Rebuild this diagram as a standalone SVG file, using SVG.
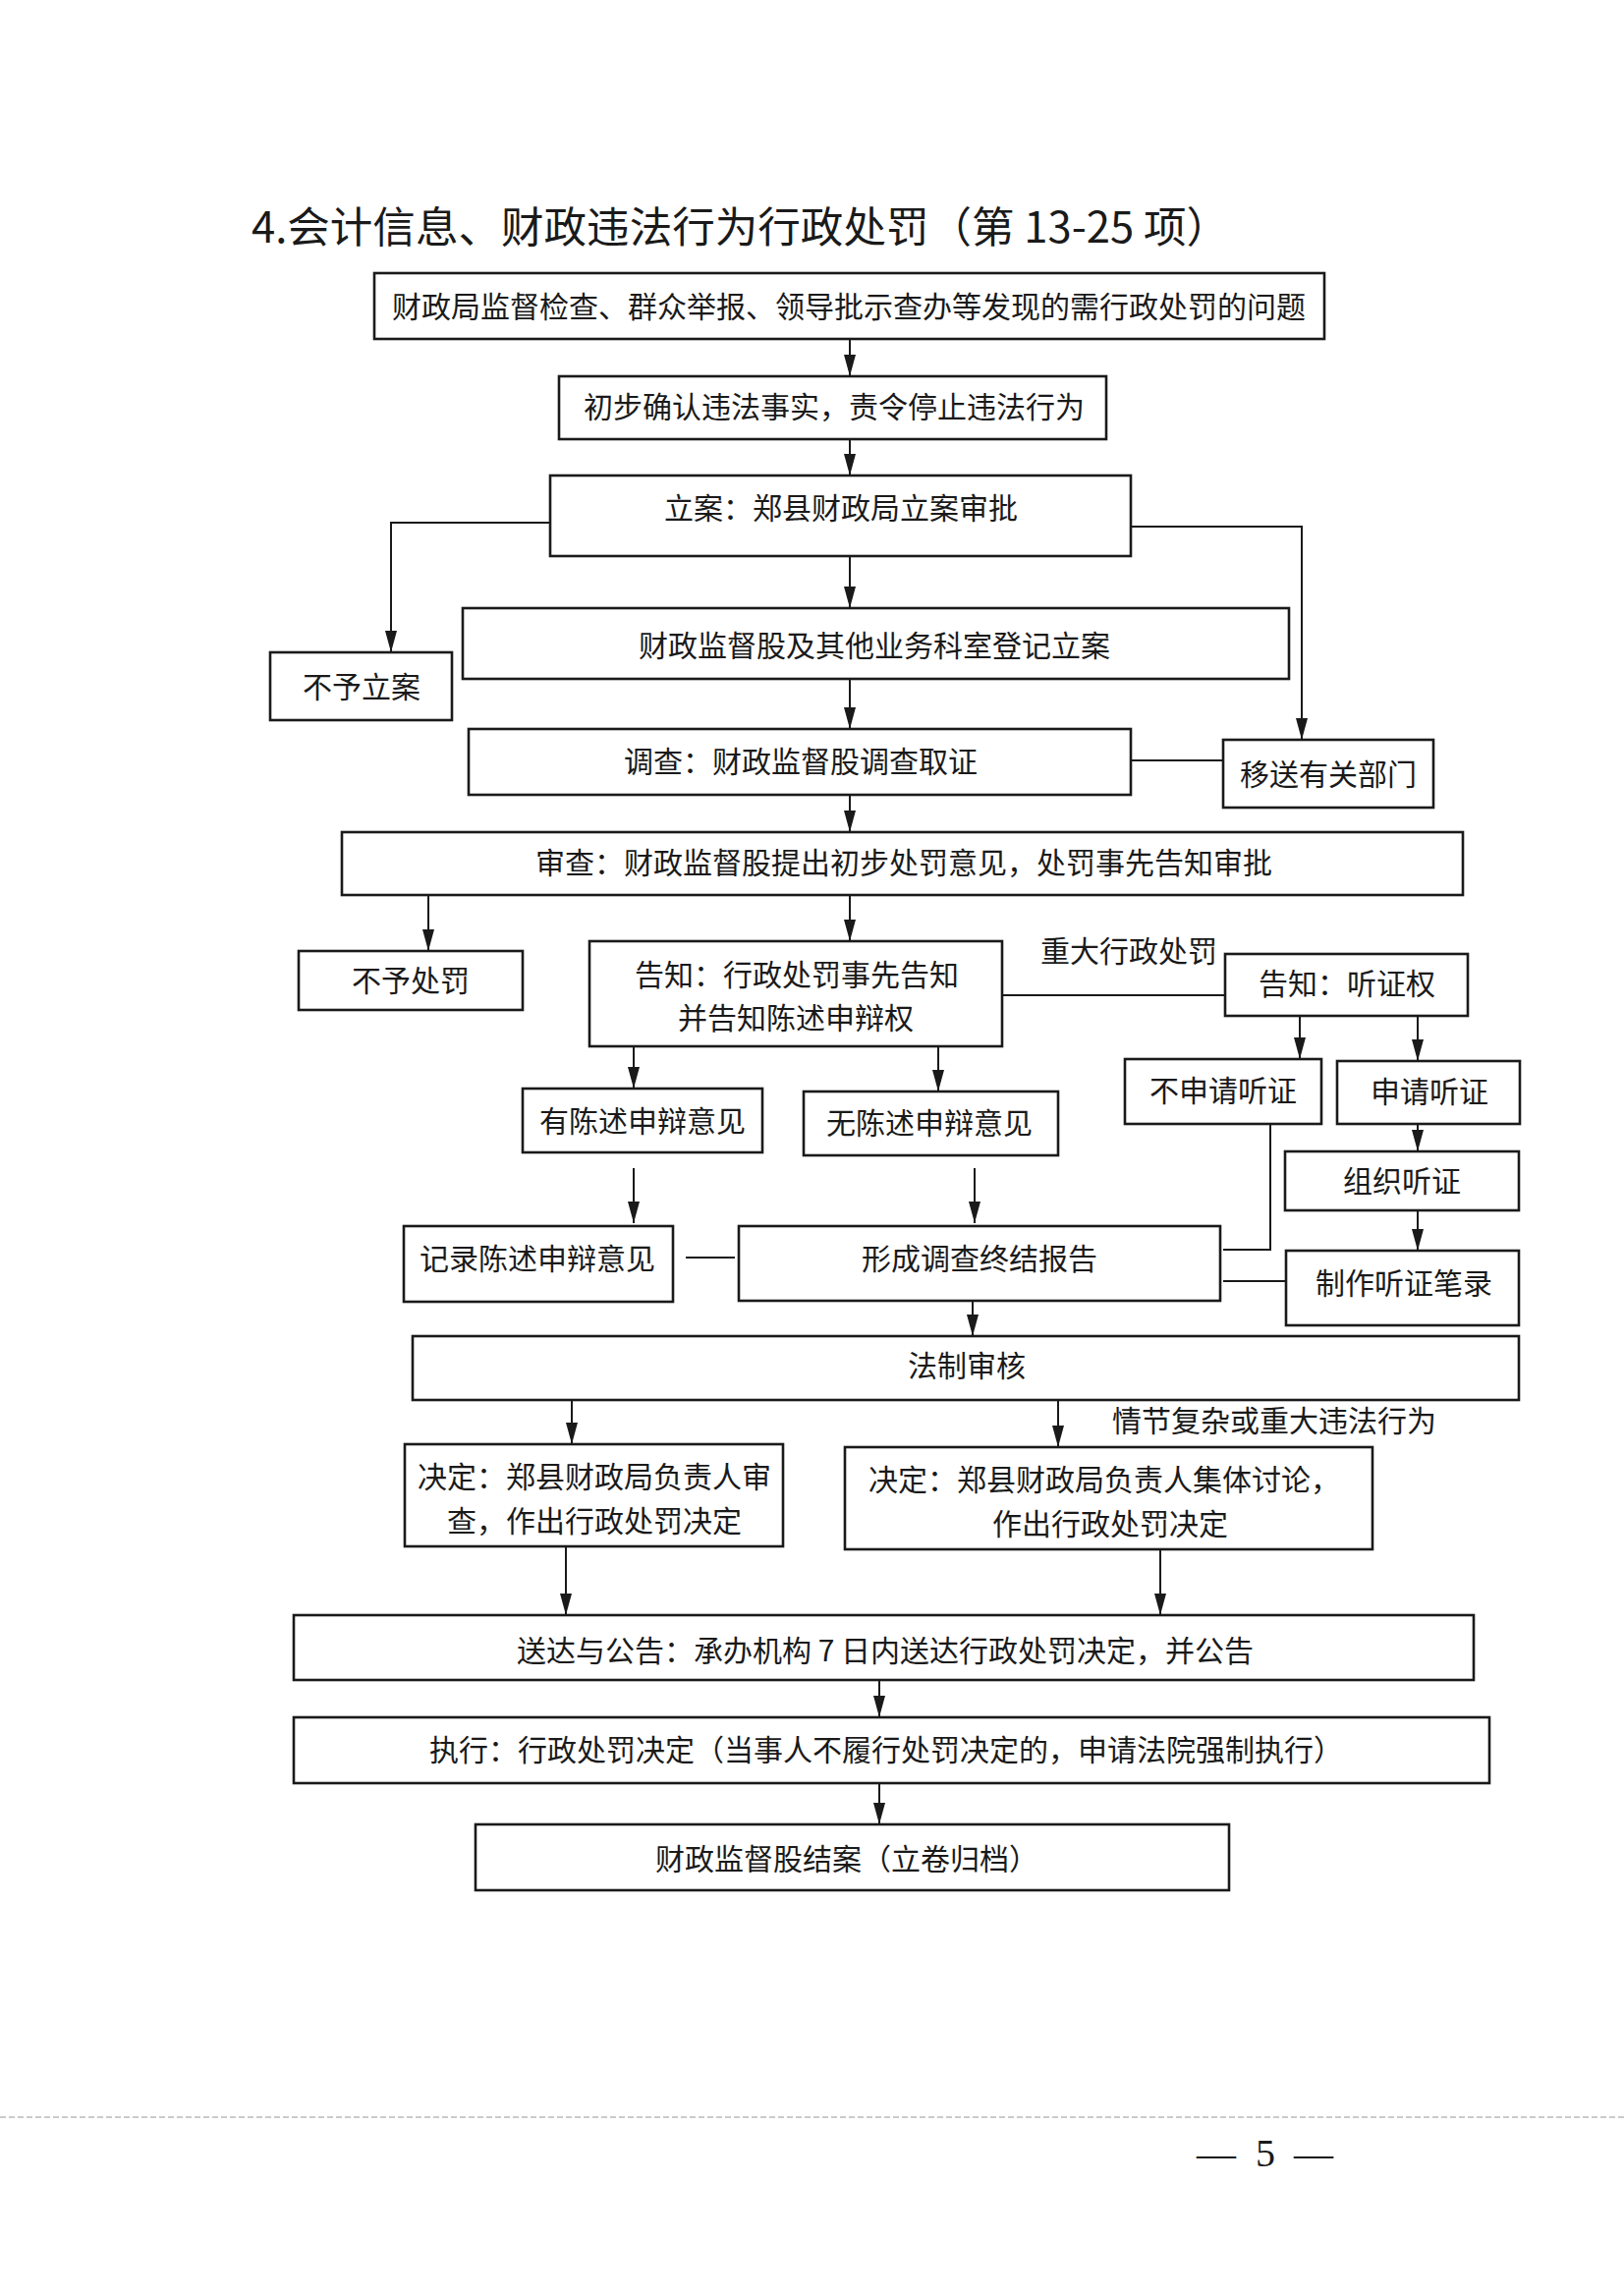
<svg xmlns="http://www.w3.org/2000/svg" width="1653" height="2336" viewBox="0 0 1653 2336">
<style>
.box{fill:#fff;stroke:#1a1a1a;stroke-width:2.6}
.t{font-family:"Noto Sans CJK SC","Noto Sans",sans-serif;font-size:30px;fill:#1a1a1a;text-anchor:middle}
.lab{font-family:"Noto Sans CJK SC","Noto Sans",sans-serif;font-size:30px;fill:#1a1a1a}
.c{fill:none;stroke:#1a1a1a;stroke-width:2}
.f{font-family:"Liberation Serif",serif;font-size:40px;fill:#1a1a1a;text-anchor:middle}
</style>
<defs>
<marker id="arrh" viewBox="0 0 22 12" refX="22" refY="6" markerWidth="22" markerHeight="12" markerUnits="userSpaceOnUse" orient="auto">
<path d="M0,0 L22,6 L0,12 z" fill="#1a1a1a"/>
</marker>
</defs>
<rect width="1653" height="2336" fill="#fff"/>
<text x="256" y="247" font-family="'Noto Sans CJK SC',sans-serif" font-size="43" fill="#1a1a1a" textLength="995" lengthAdjust="spacingAndGlyphs">4.会计信息、财政违法行为行政处罚（第 13-25 项）</text>

<g id="connectors">
<path class="c" marker-end="url(#arrh)" d="M865,345 V383"/>
<path class="c" marker-end="url(#arrh)" d="M865,447 V484"/>
<path class="c" marker-end="url(#arrh)" d="M560,532 H398 V664"/>
<path class="c" marker-end="url(#arrh)" d="M1151,536 H1325 V753"/>
<path class="c" marker-end="url(#arrh)" d="M865,566 V619"/>
<path class="c" marker-end="url(#arrh)" d="M865,691 V742"/>
<path class="c" d="M1151,774 H1245"/>
<path class="c" marker-end="url(#arrh)" d="M865,809 V847"/>
<path class="c" marker-end="url(#arrh)" d="M436,911 V968"/>
<path class="c" marker-end="url(#arrh)" d="M865,911 V958"/>
<path class="c" d="M1020,1013 H1247"/>
<path class="c" marker-end="url(#arrh)" d="M1323,1034 V1078"/>
<path class="c" marker-end="url(#arrh)" d="M1443,1034 V1080"/>
<path class="c" marker-end="url(#arrh)" d="M1443,1144 V1172"/>
<path class="c" marker-end="url(#arrh)" d="M1443,1232 V1273"/>
<path class="c" d="M1293,1144 V1272 H1245"/>
<path class="c" d="M1245,1304 H1309"/>
<path class="c" marker-end="url(#arrh)" d="M645,1065 V1108"/>
<path class="c" marker-end="url(#arrh)" d="M955,1065 V1111"/>
<path class="c" marker-end="url(#arrh)" d="M645,1189 V1245"/>
<path class="c" marker-end="url(#arrh)" d="M992,1189 V1245"/>
<path class="c" d="M698,1280 H748"/>
<path class="c" marker-end="url(#arrh)" d="M990,1324 V1360"/>
<path class="c" marker-end="url(#arrh)" d="M582,1425 V1470"/>
<path class="c" marker-end="url(#arrh)" d="M1077,1425 V1473"/>
<path class="c" marker-end="url(#arrh)" d="M576,1574 V1644"/>
<path class="c" marker-end="url(#arrh)" d="M1181,1577 V1644"/>
<path class="c" marker-end="url(#arrh)" d="M895,1710 V1748"/>
<path class="c" marker-end="url(#arrh)" d="M895,1815 V1857"/>
</g>

<g id="n1"><rect class="box" x="381" y="278" width="967" height="67"/><text class="t" x="864" y="323">财政局监督检查、群众举报、领导批示查办等发现的需行政处罚的问题</text></g>
<g id="n2"><rect class="box" x="569" y="383" width="557" height="64"/><text class="t" x="849" y="425">初步确认违法事实，责令停止违法行为</text></g>
<g id="n3"><rect class="box" x="560" y="484" width="591" height="82"/><text class="t" x="856" y="528">立案：郑县财政局立案审批</text></g>
<g id="n4"><rect class="box" x="275" y="664" width="185" height="69"/><text class="t" x="368" y="710">不予立案</text></g>
<g id="n5"><rect class="box" x="471" y="619" width="841" height="72"/><text class="t" x="890" y="668">财政监督股及其他业务科室登记立案</text></g>
<g id="n6"><rect class="box" x="477" y="742" width="674" height="67"/><text class="t" x="815" y="786">调查：财政监督股调查取证</text></g>
<g id="n7"><rect class="box" x="1245" y="753" width="214" height="69"/><text class="t" x="1352" y="799">移送有关部门</text></g>
<g id="n8"><rect class="box" x="348" y="847" width="1141" height="64"/><text class="t" x="920" y="889">审查：财政监督股提出初步处罚意见，处罚事先告知审批</text></g>
<g id="n9"><rect class="box" x="304" y="968" width="228" height="60"/><text class="t" x="418" y="1009">不予处罚</text></g>
<g id="n10"><rect class="box" x="600" y="958" width="420" height="107"/><text class="t" x="811" y="1003">告知：行政处罚事先告知</text><text class="t" x="810" y="1047">并告知陈述申辩权</text></g>
<g id="n11"><rect class="box" x="1247" y="971" width="247" height="63"/><text class="t" x="1371" y="1012">告知：听证权</text></g>
<g id="n12"><rect class="box" x="1145" y="1078" width="200" height="66"/><text class="t" x="1245" y="1121">不申请听证</text></g>
<g id="n13"><rect class="box" x="1361" y="1080" width="186" height="64"/><text class="t" x="1455" y="1122">申请听证</text></g>
<g id="n14"><rect class="box" x="532" y="1108" width="244" height="65"/><text class="t" x="654" y="1152">有陈述申辩意见</text></g>
<g id="n15"><rect class="box" x="818" y="1111" width="259" height="65"/><text class="t" x="946" y="1154">无陈述申辩意见</text></g>
<g id="n16"><rect class="box" x="1308" y="1172" width="238" height="60"/><text class="t" x="1427" y="1213">组织听证</text></g>
<g id="n17"><rect class="box" x="411" y="1248" width="274" height="77"/><text class="t" x="547" y="1292">记录陈述申辩意见</text></g>
<g id="n18"><rect class="box" x="752" y="1248" width="490" height="76"/><text class="t" x="997" y="1292">形成调查终结报告</text></g>
<g id="n19"><rect class="box" x="1309" y="1273" width="237" height="76"/><text class="t" x="1429" y="1317">制作听证笔录</text></g>
<g id="n20"><rect class="box" x="420" y="1360" width="1126" height="65"/><text class="t" x="984" y="1401">法制审核</text></g>
<g id="n21"><rect class="box" x="412" y="1470" width="385" height="104"/><text class="t" x="605" y="1514">决定：郑县财政局负责人审</text><text class="t" x="605" y="1559">查，作出行政处罚决定</text></g>
<g id="n22"><rect class="box" x="860" y="1473" width="537" height="104"/><text class="t" x="1124" y="1517">决定：郑县财政局负责人集体讨论，</text><text class="t" x="1130" y="1562">作出行政处罚决定</text></g>
<g id="n23"><rect class="box" x="299" y="1644" width="1201" height="66"/><text class="t" x="901" y="1691">送达与公告：承办机构 7 日内送达行政处罚决定，并公告</text></g>
<g id="n24"><rect class="box" x="299" y="1748" width="1217" height="67"/><text class="t" x="902" y="1792">执行：行政处罚决定（当事人不履行处罚决定的，申请法院强制执行）</text></g>
<g id="n25"><rect class="box" x="484" y="1857" width="767" height="67"/><text class="t" x="862" y="1903">财政监督股结案（立卷归档）</text></g>

<g id="labels">
<text class="lab" x="1059" y="979">重大行政处罚</text>
<text class="lab" x="1132" y="1457">情节复杂或重大违法行为</text>
</g>

<line x1="0" y1="2155" x2="1653" y2="2155" stroke="#bbb" stroke-width="1.5" stroke-dasharray="6,3"/>
<text class="f" x="1238" y="2205">—</text>
<text class="f" x="1288" y="2205">5</text>
<text class="f" x="1337" y="2205">—</text>
</svg>
